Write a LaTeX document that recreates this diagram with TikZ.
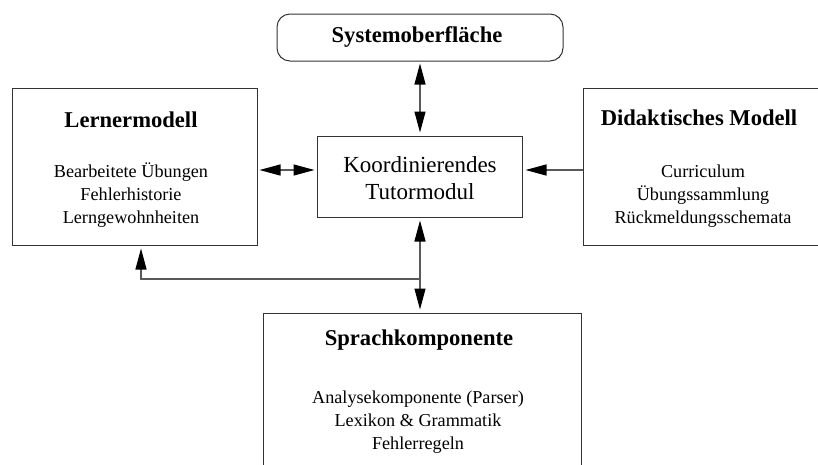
\documentclass[tikz,border=0pt]{standalone}
\usepackage{fontspec}
\setmainfont{Liberation Serif}
\usetikzlibrary{arrows.meta,calc}
\begin{document}
\begin{tikzpicture}[x=1pt,y=-1pt,
  box/.style={draw=black!80, line width=1pt, rectangle, inner sep=0pt},
  ttl/.style={font=\fontsize{22.6}{27}\selectfont\bfseries, inner sep=0pt},
  bdy/.style={font=\fontsize{18.2}{22.8}\selectfont, align=center, inner sep=0pt},
  conn/.style={draw=black!65, line width=1.2pt},
  tipa/.tip={Triangle[length=21pt,width=11pt,color=black]}
]
\useasboundingbox (0,0) rectangle (818,464);
\clip (0,0) rectangle (818,464);
% boxes
\node[box, rounded corners=13pt, minimum width=286pt, minimum height=47pt] (sys) at (420,37.5) {};
\node[box, minimum width=245pt, minimum height=157pt] (lern) at (134.5,166.5) {};
\node[box, minimum width=205pt, minimum height=81pt] (tut) at (419.5,176.5) {};
\node[box, minimum width=237pt, minimum height=157pt] (did) at (701.5,166.5) {};
\node[box, minimum width=318pt, minimum height=170pt] (spr) at (422,398) {};
% texts
\node[ttl] (systxt) at (417,37) {Systemoberfläche};
\node[ttl] (lerntxt) at (131,120) {Lernermodell};
\node[bdy] (lernbdy) at (131,195) {Bearbeitete Übungen\\Fehlerhistorie\\Lerngewohnheiten};
\node[font=\fontsize{23}{27}\selectfont, align=center, inner sep=0pt] (tuttxt) at (420,178) {Koordinierendes\\Tutormodul};
\node[ttl] (didtxt) at (699,118) {Didaktisches Modell};
\node[bdy] (didbdy) at (703,196) {Curriculum\\Übungssammlung\\Rückmeldungsschemata};
\node[ttl] (sprtxt) at (419,340) {Sprachkomponente};
\node[bdy] (sprbdy) at (418,422) {Analysekomponente (Parser)\\Lexikon \& Grammatik\\Fehlerregeln};
% connectors
\coordinate (ay) at (0,170);
\coordinate (by) at (0,279);
\coordinate (lx) at (141,0);
\draw[conn, tipa-tipa, shorten <=2pt, shorten >=3pt] (420,0 |- sys.south) -- (420,0 |- tut.north);
\draw[conn, tipa-tipa, shorten <=2pt, shorten >=2pt] (lern.east |- ay) -- (tut.west |- ay);
\draw[conn, -tipa, shorten >=3pt] (did.west |- ay) -- (tut.east |- ay);
\coordinate (br) at (420,279);
\draw[conn, tipa-tipa, shorten <=3pt, shorten >=3pt] (420,0 |- tut.south) -- (420,0 |- spr.north);
\draw[conn, -tipa, shorten >=3pt] (br) -- (lx |- by) -- (lx |- lern.south);
\end{tikzpicture}
\end{document}
